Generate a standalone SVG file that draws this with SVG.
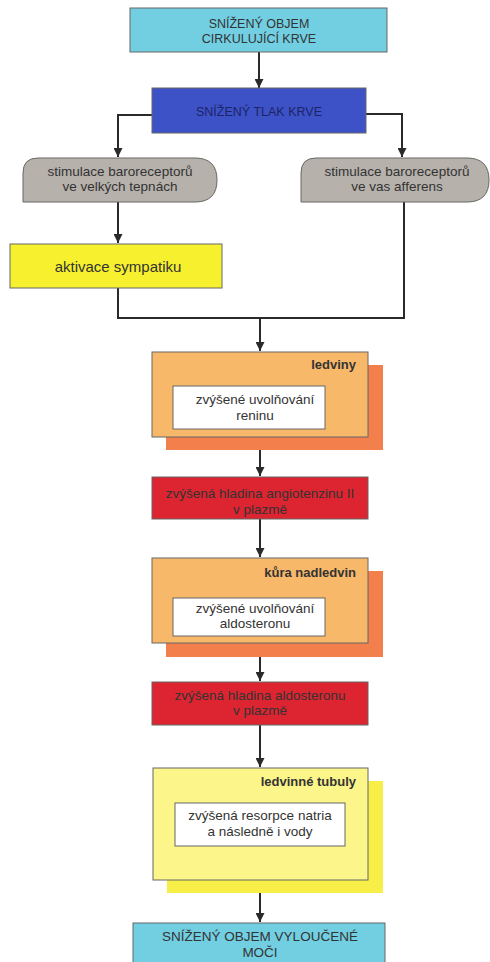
<svg xmlns="http://www.w3.org/2000/svg" width="490" height="962" viewBox="0 0 490 962">
<defs>
<marker id="ah" viewBox="0 0 10 10" refX="10" refY="5" markerWidth="10" markerHeight="9" markerUnits="userSpaceOnUse" orient="auto">
<path d="M0,0 L10,5 L0,10 Z" fill="#2a2a2a"/>
</marker>
<style>
.t{font-family:"Liberation Sans",Arial,sans-serif;font-size:13.5px;fill:#333;text-anchor:middle}
.cap{font-size:12.5px}
.b{font-weight:bold;text-anchor:end;font-size:13px}
.bx{stroke:#666;stroke-width:1}
.ln{fill:none;stroke:#2a2a2a;stroke-width:2}
</style>
</defs>
<rect width="490" height="962" fill="#fff"/>
<g id="connectors">
<line class="ln" x1="259" y1="52" x2="259" y2="88" marker-end="url(#ah)"/>
<polyline class="ln" points="152,115 118,115 118,157" marker-end="url(#ah)"/>
<polyline class="ln" points="366,114 402,114 402,157" marker-end="url(#ah)"/>
<line class="ln" x1="118" y1="202" x2="118" y2="243" marker-end="url(#ah)"/>
<polyline class="ln" points="118,288 118,318 404,318 404,202"/>
<line class="ln" x1="260" y1="318" x2="260" y2="351" marker-end="url(#ah)"/>
<line class="ln" x1="260" y1="437" x2="260" y2="476" marker-end="url(#ah)"/>
<line class="ln" x1="260" y1="519" x2="260" y2="557" marker-end="url(#ah)"/>
<line class="ln" x1="260" y1="643" x2="260" y2="681" marker-end="url(#ah)"/>
<line class="ln" x1="260" y1="725" x2="260" y2="767" marker-end="url(#ah)"/>
<line class="ln" x1="260" y1="880" x2="260" y2="922" marker-end="url(#ah)"/>
</g>
<g id="n1">
<rect class="bx" x="130" y="8" width="257" height="44" fill="#72cfe2"/>
<text class="t cap" x="259" y="28">SNÍŽENÝ OBJEM</text>
<text class="t cap" x="259" y="43">CIRKULUJÍCÍ KRVE</text>
</g>
<g id="n2">
<rect class="bx" x="152" y="88" width="214" height="45" fill="#3d52c6"/>
<text class="t cap" x="259" y="116" style="fill:#1c2466">SNÍŽENÝ TLAK KRVE</text>
</g>
<g id="n3">
<path class="bx" d="M23,202 V173 Q23,158 38,158 H195 Q217,158 217,180 Q217,202 195,202 Z" fill="#b6b1ab"/>
<text class="t" x="120" y="176">stimulace baroreceptorů</text>
<text class="t" x="120" y="191">ve velkých tepnách</text>
</g>
<g id="n4">
<path class="bx" d="M301,202 V173 Q301,158 316,158 H467 Q489,158 489,180 Q489,202 467,202 Z" fill="#b6b1ab"/>
<text class="t" x="397" y="176">stimulace baroreceptorů</text>
<text class="t" x="397" y="191">ve vas afferens</text>
</g>
<g id="n5">
<rect class="bx" x="10" y="244" width="212" height="44" fill="#f6f02e"/>
<text class="t" x="118" y="272" style="font-size:15px">aktivace sympatiku</text>
</g>
<g id="n6">
<rect x="166" y="365" width="217" height="85" fill="#f27f4c"/>
<rect class="bx" x="152" y="352" width="216" height="85" fill="#f8b86a"/>
<text class="t b" x="356" y="369">ledviny</text>
<rect class="bx" x="173" y="386" width="152" height="43" fill="#fff"/>
<text class="t" x="255" y="404">zvýšené uvolňování</text>
<text class="t" x="255" y="420">reninu</text>
</g>
<g id="n7">
<rect class="bx" x="152" y="477" width="216" height="42" fill="#dc2530"/>
<text class="t" x="260" y="498">zvýšená hladina angiotenzinu II</text>
<text class="t" x="260" y="514">v plazmě</text>
</g>
<g id="n8">
<rect x="166" y="571" width="217" height="86" fill="#f27f4c"/>
<rect class="bx" x="152" y="558" width="216" height="85" fill="#f8b86a"/>
<text class="t b" x="356" y="577">kůra nadledvin</text>
<rect class="bx" x="173" y="598" width="152" height="38" fill="#fff"/>
<text class="t" x="255" y="613">zvýšené uvolňování</text>
<text class="t" x="255" y="628">aldosteronu</text>
</g>
<g id="n9">
<rect class="bx" x="152" y="682" width="216" height="43" fill="#dc2530"/>
<text class="t" x="260" y="700">zvýšená hladina aldosteronu</text>
<text class="t" x="260" y="715">v plazmě</text>
</g>
<g id="n10">
<rect x="167" y="781" width="216" height="112" fill="#f8ee48"/>
<rect class="bx" x="153" y="768" width="215" height="112" fill="#fcf589"/>
<text class="t b" x="356" y="786">ledvinné tubuly</text>
<rect class="bx" x="175" y="803" width="170" height="43" fill="#fff"/>
<text class="t" x="260" y="820">zvýšená resorpce natria</text>
<text class="t" x="260" y="836">a následně i vody</text>
</g>
<g id="n11">
<rect class="bx" x="133" y="923" width="252" height="45" fill="#72cfe2"/>
<text class="t" x="260" y="941">SNÍŽENÝ OBJEM VYLOUČENÉ</text>
<text class="t" x="260" y="957">MOČI</text>
</g>
</svg>
